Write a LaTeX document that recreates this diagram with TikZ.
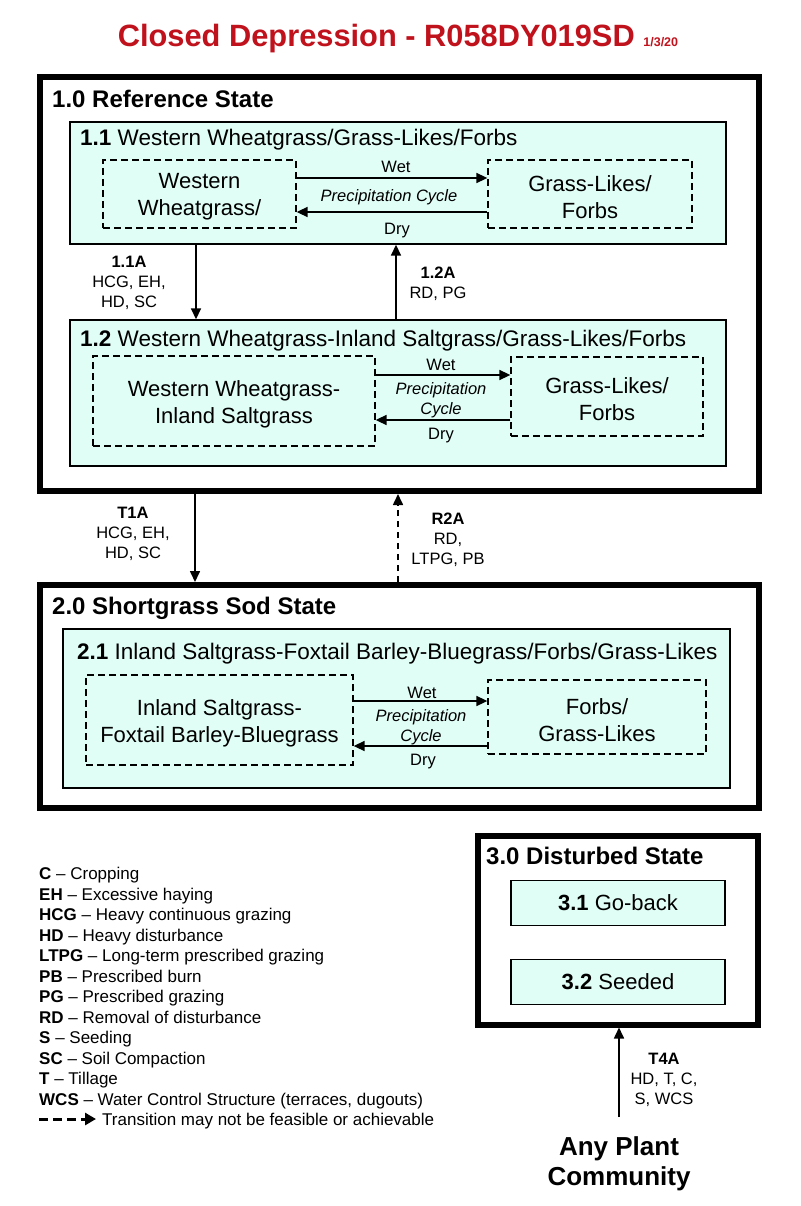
\documentclass[tikz,border=0pt]{standalone}
\usepackage{fontspec}
\setmainfont{Liberation Sans}
\usetikzlibrary{arrows.meta}
\definecolor{titlered}{RGB}{192,18,28}
\definecolor{cfill}{RGB}{224,253,246}
\newcommand\fs[2]{\fontsize{#1}{#2}\selectfont}
\tikzset{
  statebox/.style={draw, line width=6pt, inner sep=0pt},
  commbox/.style={draw, line width=1.4pt, fill=cfill, inner sep=0pt},
  phasebox/.style={draw, line width=1.3pt, dash pattern=on 7pt off 4pt, inner sep=0pt},
  ptext/.style={inner sep=0pt, align=center, font=\fs{22}{27}, yshift=-3pt},
  arr/.style={line width=1.6pt, -{Triangle[length=11pt,width=10pt]}},
  darr/.style={line width=1.6pt, dash pattern=on 6pt off 5pt, -{Triangle[length=11pt,width=10pt]}},
  stitle/.style={anchor=west, inner sep=0pt, font=\fs{24}{28}\bfseries},
  ctitle/.style={anchor=west, inner sep=0pt, font=\fs{22.5}{27}, yshift=-3pt},
  wd/.style={inner sep=0pt, font=\fs{16.5}{20}, yshift=-2pt},
  pc/.style={inner sep=0pt, font=\fs{16.5}{20.5}\itshape, align=center, yshift=-2pt},
  lab/.style={inner sep=0pt, font=\fs{16.5}{20}, align=center, yshift=-2pt},
  legend/.style={inner sep=0pt, anchor=base west, font=\fs{17}{20}},
}
\begin{document}
\begin{tikzpicture}[x=1pt,y=-1pt]
\useasboundingbox (0,0) rectangle (800,1206);

% title
\node[inner sep=0pt, text=titlered, font=\fs{30.8}{36}\bfseries] (title) at (398,39)
  {Closed Depression - R058DY019SD {\fs{12.5}{15}1/3/20}};

% ---------- State 1 ----------
\node[statebox, minimum width=719pt, minimum height=414pt] (s1) at (399.5,284) {};
\node[stitle] (s1t) at (52,99) {1.0 Reference State};

\node[commbox, minimum width=656pt, minimum height=122pt] (c11) at (398,183) {};
\node[ctitle] (c11t) at (80,137) {\textbf{1.1} Western Wheatgrass/Grass-Likes/Forbs};
\node[phasebox, minimum width=193pt, minimum height=68pt] (p11a) at (199.5,194) {};
\node[ptext] (p11at) at (p11a) {Western\\Wheatgrass/};
\node[phasebox, minimum width=204pt, minimum height=68pt] (p11b) at (590,194) {};
\node[ptext] (p11bt) at (p11b) {Grass-Likes/\\Forbs};
\coordinate (w11) at (390,178);
\coordinate (d11) at (390,212);
\draw[arr] (p11a.east |- w11) -- (p11b.west |- w11);
\draw[arr] (p11b.west |- d11) -- (p11a.east |- d11);
\node[wd] (w11t) at (396,165) {Wet};
\node[pc] (pc11) at (389,195) {Precipitation Cycle};
\node[wd] (d11t) at (397,229) {Dry};

\node[commbox, minimum width=656pt, minimum height=146pt] (c12) at (398,393) {};
\node[ctitle] (c12t) at (80,338) {\textbf{1.2} Western Wheatgrass-Inland Saltgrass/Grass-Likes/Forbs};
\node[phasebox, minimum width=282pt, minimum height=90pt] (p12a) at (234,401) {};
\node[ptext] (p12at) at (p12a) {Western Wheatgrass-\\Inland Saltgrass};
\node[phasebox, minimum width=192pt, minimum height=79pt] (p12b) at (607,396.5) {};
\node[ptext] (p12bt) at (p12b) {Grass-Likes/\\Forbs};
\coordinate (w12) at (440,375);
\coordinate (d12) at (440,420);
\draw[arr] (p12a.east |- w12) -- (p12b.west |- w12);
\draw[arr] (p12b.west |- d12) -- (p12a.east |- d12);
\node[wd] (w12t) at (441,363) {Wet};
\node[pc] (pc12) at (441,398) {Precipitation\\Cycle};
\node[wd] (d12t) at (441,434) {Dry};

% 1.1A / 1.2A
\coordinate (x11a) at (196,0);
\coordinate (x12a) at (396,0);
\draw[arr] (c11.south -| x11a) -- (c12.north -| x11a);
\draw[arr] (c12.north -| x12a) -- (c11.south -| x12a);
\node[lab] (l11a) at (129,281) {\textbf{1.1A}\\HCG, EH,\\HD, SC};
\node[lab] (l12a) at (438,282) {\textbf{1.2A}\\RD, PG};

% ---------- State 2 ----------
\node[statebox, minimum width=719pt, minimum height=223pt] (s2) at (399.5,696.5) {};
\node[stitle] (s2t) at (52,608) {2.0 Shortgrass Sod State};

\node[commbox, minimum width=667pt, minimum height=159pt] (c21) at (396.5,708.5) {};
\node[ctitle] (c21t) at (77,651) {\textbf{2.1} Inland Saltgrass-Foxtail Barley-Bluegrass/Forbs/Grass-Likes};
\node[phasebox, minimum width=267pt, minimum height=90pt] (p21a) at (219.5,720) {};
\node[ptext] (p21at) at (p21a) {Inland Saltgrass-\\Foxtail Barley-Bluegrass};
\node[phasebox, minimum width=218pt, minimum height=74pt] (p21b) at (597,717) {};
\node[ptext] (p21bt) at (p21b) {Forbs/\\Grass-Likes};
\coordinate (w21) at (420,701);
\coordinate (d21) at (420,746);
\draw[arr] (p21a.east |- w21) -- (p21b.west |- w21);
\draw[arr] (p21b.west |- d21) -- (p21a.east |- d21);
\node[wd] (w21t) at (422,691) {Wet};
\node[pc] (pc21) at (421,725) {Precipitation\\Cycle};
\node[wd] (d21t) at (423,760) {Dry};

% T1A / R2A
\coordinate (xt1a) at (195,0);
\coordinate (xr2a) at (398,0);
\draw[arr] (s1.south -| xt1a) -- (s2.north -| xt1a);
\draw[darr] (s2.north -| xr2a) -- (s1.south -| xr2a);
\node[lab] (lt1a) at (133,532) {\textbf{T1A}\\HCG, EH,\\HD, SC};
\node[lab] (lr2a) at (448,538) {\textbf{R2A}\\RD,\\LTPG, PB};

% ---------- State 3 ----------
\node[statebox, minimum width=280pt, minimum height=189pt] (s3) at (618,930) {};
\node[stitle] (s3t) at (486,856) {3.0 Disturbed State};
\node[commbox, minimum width=214pt, minimum height=45pt, font=\fs{22}{26}] (c31) at (618,903) {\textbf{3.1} Go-back};
\node[commbox, minimum width=214pt, minimum height=45pt, font=\fs{22}{26}] (c32) at (618,982) {\textbf{3.2} Seeded};

\node[inner sep=0pt, align=center, font=\fs{26}{30}\bfseries] (apc) at (619,1164) {Any Plant\\Community};
\coordinate (t4s) at (619,1117);
\draw[arr] (t4s) -- (t4s |- s3.south);
\node[lab] (lt4a) at (664,1078) {\textbf{T4A}\\HD, T, C,\\S, WCS};

% ---------- Legend ----------
\foreach \ab/\txt [count=\i from 0] in {C/Cropping, EH/Excessive haying, HCG/Heavy continuous grazing, HD/Heavy disturbance, LTPG/Long-term prescribed grazing, PB/Prescribed burn, PG/Prescribed grazing, RD/Removal of disturbance, S/Seeding, SC/Soil Compaction, T/Tillage, WCS/{Water Control Structure (terraces, dugouts)}}
  \node[legend] (lg\i) at (39,879.5+20.5*\i) {\textbf{\ab} – \txt};
\coordinate (lga) at (39,1119);
\coordinate (lgb) at (96,1119);
\draw[line width=3pt, dash pattern=on 9pt off 5pt, -{Triangle[length=11pt,width=12pt]}] (lga) -- (lgb);
\node[legend] (lg12) at (102,1125.5) {Transition may not be feasible or achievable};
\end{tikzpicture}
\end{document}
